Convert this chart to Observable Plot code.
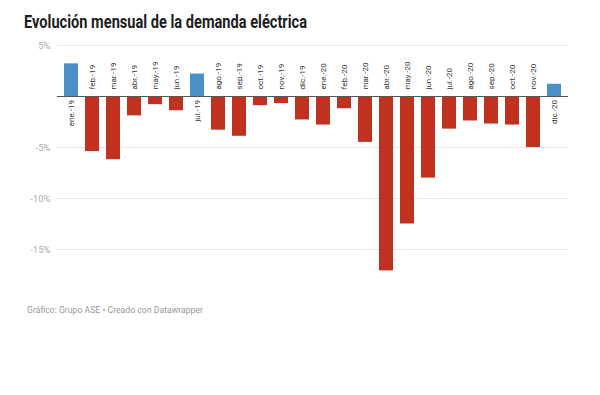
<!DOCTYPE html>
<html><head><meta charset="utf-8">
<script src="https://cdn.jsdelivr.net/npm/d3@7"></script>
<script src="https://cdn.jsdelivr.net/npm/@observablehq/plot@0.6"></script>
<style>
body{margin:0;background:#fff;width:600px;height:395px;position:relative;overflow:hidden;font-family:Roboto,sans-serif}
#title{position:absolute;left:24px;top:12.5px;font-weight:700;font-size:18px;line-height:1;color:#1d1d1d;white-space:nowrap;transform-origin:left top}
#chart{position:absolute;left:0;top:38px}
#foot{position:absolute;left:27px;top:305.5px;font-size:9px;line-height:1;color:#999;white-space:nowrap;transform-origin:left top}
</style></head><body>
<div id="title">Evolución mensual de la demanda eléctrica</div>
<div id="chart"></div>
<div id="foot">Gráfico: Grupo ASE • Creado con Datawrapper</div>
<script>
const months = ["ene.-19","feb.-19","mar.-19","abr.-19","may.-19","jun.-19","jul.-19","ago.-19","sep.-19","oct.-19","nov.-19","dic.-19","ene.-20","feb.-20","mar.-20","abr.-20","may.-20","jun.-20","jul.-20","ago.-20","sep.-20","oct.-20","nov.-20","dic.-20"];
const values = [3.2,-5.4,-6.2,-1.9,-0.8,-1.4,2.2,-3.3,-3.9,-0.9,-0.7,-2.3,-2.8,-1.2,-4.5,-17.1,-12.5,-8.0,-3.2,-2.4,-2.7,-2.8,-5.0,1.2];
const yTicks = [5,-5,-10,-15];
const posColor = "#4a90c8", negColor = "#c0311f";
const data = months.map((m,i)=>({month:m, value:values[i]}));

const chart = Plot.plot({
  width:600, height:240, marginTop:7, marginBottom:7.6, marginLeft:57, marginRight:32,
  style:{fontFamily:"Roboto, sans-serif", background:"transparent"},
  x:{domain:months, paddingInner:0.34, paddingOuter:0.14, axis:null},
  y:{domain:[-17.1,5], axis:null},
  marks:[
    Plot.ruleY(yTicks,{stroke:"#e6e6e6"}),
    Plot.barY(data,{x:"month", y:"value", fill: d=> d.value>=0?posColor:negColor}),
    Plot.ruleY([0],{stroke:"#555", strokeWidth:1.2}),
    Plot.text(yTicks, {y: d=>d, text: d=>`${d}%`, frameAnchor:"left", textAnchor:"end", dx:-7, fill:"#aaa", fontSize:9.5}),
    Plot.text(data.filter(d=>d.value<0), {x:"month", y:0, text:"month", rotate:-90, textAnchor:"start", dy:-7, fill:"#333", fontSize:8}),
    Plot.text(data.filter(d=>d.value>=0), {x:"month", y:0, text:"month", rotate:-90, textAnchor:"end", dy:3.5, fill:"#333", fontSize:8})
  ]
});
document.getElementById("chart").append(chart);
const fit = (id, w) => { const el = document.getElementById(id); const cw = el.getBoundingClientRect().width; el.style.transform = `scaleX(${w/cw})`; };
fit("title", 283);
fit("foot", 176);
</script>
</body></html>
